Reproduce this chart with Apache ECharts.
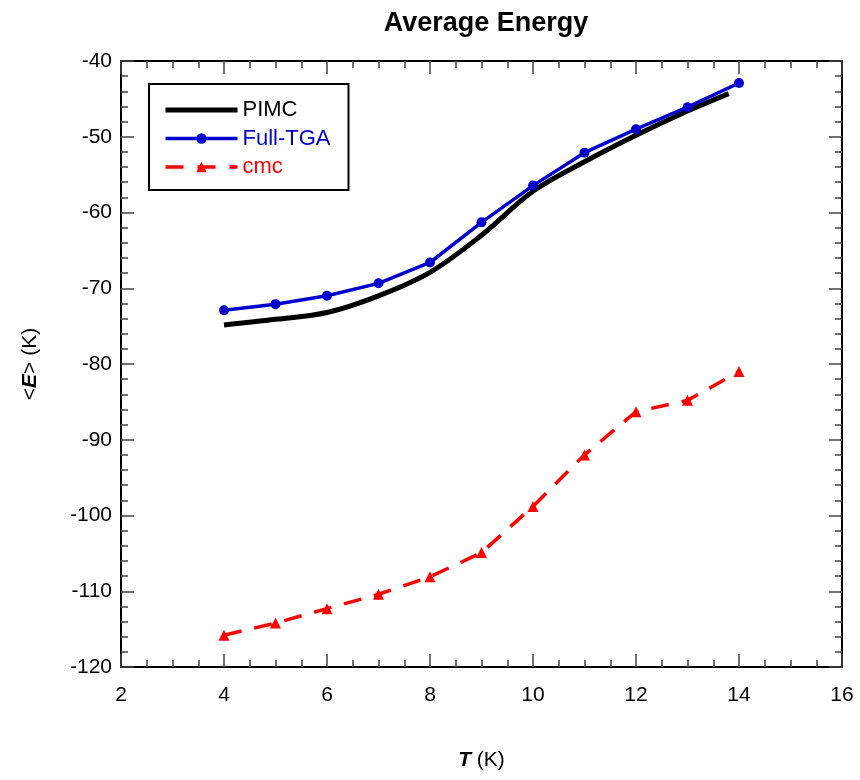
<!DOCTYPE html>
<html>
<head>
<meta charset="utf-8">
<script src="https://cdn.jsdelivr.net/npm/echarts@6/dist/echarts.min.js"></script>
<style>html,body{margin:0;padding:0;background:#fff}#c{width:860px;height:780px}</style>
</head>
<body>
<div id="c"></div>
<script>
const xTicks = [2, 4, 6, 8, 10, 12, 14, 16];
const yTicks = [-120, -110, -100, -90, -80, -70, -60, -50, -40];

const pimcT = [4, 5, 6, 7, 8, 9, 10, 11, 12, 13, 13.8];
const pimcE = [-74.85, -74.1, -73.2, -71.0, -67.9, -63.0, -57.2, -53.3, -49.8, -46.6, -44.3];

const tgaT = [4, 5, 6, 7, 8, 9, 10, 11, 12, 13, 14];
const tgaE = [-72.9, -72.1, -71.0, -69.35, -66.6, -61.3, -56.45, -52.1, -49.0, -46.1, -42.9];

const cmcT = [4, 5, 6, 7, 8, 9, 10, 11, 12, 13, 14];
const cmcE = [-115.8, -114.2, -112.3, -110.4, -108.1, -104.9, -98.8, -92.0, -86.3, -84.8, -81.0];

const seriesNames = ['PIMC', 'Full-TGA', 'cmc'];
const seriesColors = ['#000000', '#0000CC', '#FF0000'];

const FONT = '"Liberation Sans", Arial, sans-serif';
const zip = (a, b) => a.map((v, i) => [v, b[i]]);

const chart = echarts.init(document.getElementById('c'), null, {renderer: 'canvas'});

const axisLine = {show: true, lineStyle: {color: '#000', width: 2}};
const axisTick = {show: true, inside: true, length: 13, lineStyle: {color: '#444', width: 1.5}};
const minorX = {show: true, splitNumber: 4, length: 7, lineStyle: {color: '#444', width: 1.5}};
const minorY = {show: true, splitNumber: 5, length: 7, lineStyle: {color: '#444', width: 1.5}};
const nameStyle = {fontFamily: FONT, fontSize: 21, color: '#000',
  rich: {b: {fontFamily: FONT, fontSize: 21, fontWeight: 'bold', fontStyle: 'italic', color: '#000'}}};

chart.setOption({
  animation: false,
  backgroundColor: '#fff',
  title: {
    text: 'Average Energy',
    left: 481, top: 5, textAlign: 'center',
    textStyle: {fontFamily: FONT, fontSize: 27, fontWeight: 'bold', color: '#000'}
  },
  grid: {left: 121, right: 18, top: 61, bottom: 113, containLabel: false},
  legend: {
    orient: 'vertical',
    left: 149, top: 84,
    padding: [15, 18, 12, 14],
    itemWidth: 72, itemHeight: 13, itemGap: 6.5,
    borderColor: '#000', borderWidth: 2,
    backgroundColor: '#fff',
    data: [
      {name: seriesNames[0], textStyle: {color: seriesColors[0]},
        itemStyle: {opacity: 0}, lineStyle: {width: 5, color: seriesColors[0], type: 'solid'}},
      {name: seriesNames[1], textStyle: {color: seriesColors[1]},
        itemStyle: {color: seriesColors[1]}, lineStyle: {width: 3.5, color: seriesColors[1], type: 'solid'}},
      {name: seriesNames[2], textStyle: {color: seriesColors[2]},
        itemStyle: {color: seriesColors[2]}, lineStyle: {width: 3.5, color: seriesColors[2], type: [18, 14]}}
    ],
    textStyle: {fontFamily: FONT, fontSize: 22, lineHeight: 22}
  },
  xAxis: [{
    type: 'value', min: xTicks[0], max: xTicks[xTicks.length - 1], interval: 2,
    minorTick: minorX, axisLine: axisLine, axisTick: axisTick,
    splitLine: {show: false},
    axisLabel: {fontFamily: FONT, fontSize: 21, color: '#000', margin: 18},
    name: '{b|T} (K)', nameLocation: 'middle', nameGap: 83, nameTextStyle: nameStyle
  }, {
    type: 'value', position: 'top', min: xTicks[0], max: xTicks[xTicks.length - 1], interval: 2,
    minorTick: minorX, axisLine: axisLine, axisTick: axisTick,
    splitLine: {show: false}, axisLabel: {show: false}
  }],
  yAxis: [{
    type: 'value', min: yTicks[0], max: yTicks[yTicks.length - 1], interval: 10,
    minorTick: minorY, axisLine: axisLine, axisTick: axisTick,
    splitLine: {show: false},
    axisLabel: {fontFamily: FONT, fontSize: 21, color: '#000', margin: 9},
    name: '<{b|E}> (K)', nameLocation: 'middle', nameGap: 80, nameRotate: 90, nameTextStyle: nameStyle
  }, {
    type: 'value', position: 'right', min: yTicks[0], max: yTicks[yTicks.length - 1], interval: 10,
    minorTick: minorY, axisLine: axisLine, axisTick: axisTick,
    splitLine: {show: false}, axisLabel: {show: false}
  }],
  series: [{
    name: seriesNames[0], type: 'line', data: zip(pimcT, pimcE),
    smooth: 0.35, showSymbol: false, symbol: 'none',
    lineStyle: {color: seriesColors[0], width: 5},
    itemStyle: {color: seriesColors[0]}, z: 2
  }, {
    name: seriesNames[1], type: 'line', data: zip(tgaT, tgaE),
    symbol: 'circle', symbolSize: 10,
    lineStyle: {color: seriesColors[1], width: 3.5},
    itemStyle: {color: seriesColors[1]}, z: 3
  }, {
    name: seriesNames[2], type: 'line', data: zip(cmcT, cmcE),
    symbol: 'triangle', symbolSize: 11,
    lineStyle: {color: seriesColors[2], width: 3.5, type: [18, 13]},
    itemStyle: {color: seriesColors[2]}, z: 3
  }]
});
</script>
</body>
</html>
